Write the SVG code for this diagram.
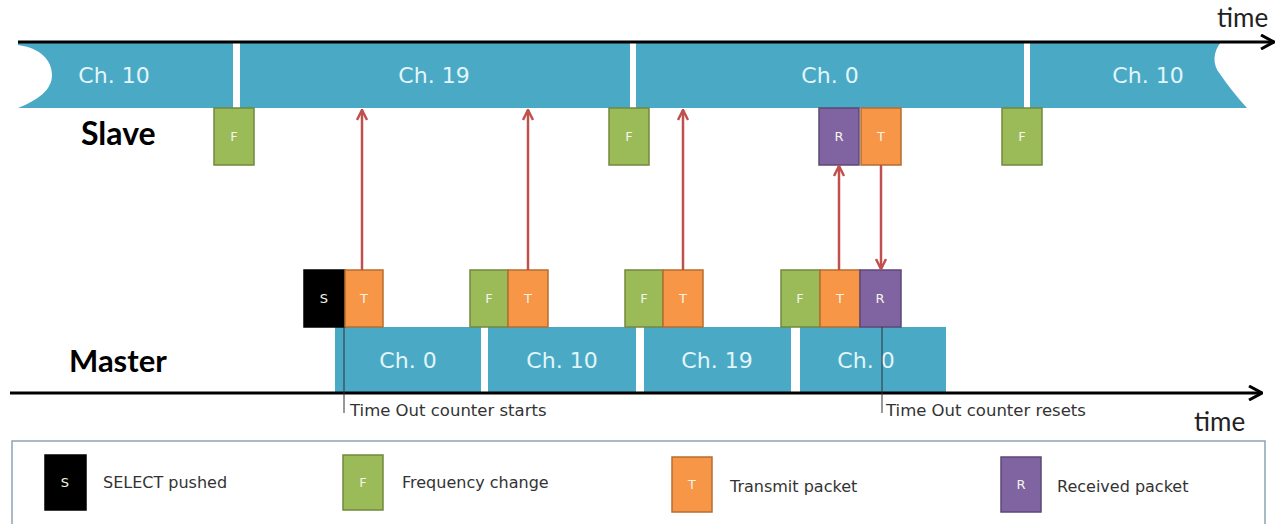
<svg xmlns="http://www.w3.org/2000/svg" width="1284" height="524" viewBox="0 0 1284 524">
<defs>
<style>
.bar{fill:#4aaac5}
.ch{font-family:"DejaVu Sans",Verdana,sans-serif;font-size:22px;fill:#e2f5fa;text-anchor:middle}
.bx{stroke-width:1.5}
.f{fill:#9bbb59;stroke:#71893f}
.t{fill:#f79646;stroke:#b66d31}
.r{fill:#8064a2;stroke:#5c4776}
.s{fill:#000;stroke:#000}
.lt{font-family:"DejaVu Sans",Verdana,sans-serif;font-size:13px;fill:#f4f4e8;text-anchor:middle}
.axis{stroke:#000;stroke-width:3;fill:none}
.lbl{font-family:Lato,"Open Sans",sans-serif;font-weight:bold;fill:#000}
.time{font-family:Lato,"Open Sans",sans-serif;font-size:26px;fill:#222}
.arw{stroke:#c0504d;stroke-width:2.5;fill:none}
.note{font-family:"DejaVu Sans",Verdana,sans-serif;font-size:16.5px;fill:#333}
.leg{font-family:"DejaVu Sans",Verdana,sans-serif;font-size:16px;fill:#333}
</style>
<marker id="ah" viewBox="0 0 12 12" refX="11" refY="6" markerWidth="12" markerHeight="12" markerUnits="userSpaceOnUse" orient="auto">
<path d="M1,1 L11,6 L1,11" fill="none" stroke="#c0504d" stroke-width="2.5"/>
</marker>
<marker id="axh" viewBox="0 0 16 16" refX="15" refY="8" markerWidth="16" markerHeight="16" markerUnits="userSpaceOnUse" orient="auto">
<path d="M2,1 L15,8 L2,15" fill="none" stroke="#000" stroke-width="3"/>
</marker>
</defs>
<rect width="1284" height="524" fill="#fff"/>

<g id="slave-bar">
<path class="bar" d="M18,42 L233,42 L233,108 L18,108 C38,100 52,90 52,75 C52,60 40,48 18,45 Z"/>
<rect class="bar" x="240" y="42" width="390" height="66"/>
<rect class="bar" x="636" y="42" width="388" height="66"/>
<path class="bar" d="M1030,42 L1221,42 C1213,52 1212,64 1220,74 C1228,86 1238,98 1247,108 L1030,108 Z"/>
<text class="ch" x="114" y="83">Ch. 10</text>
<text class="ch" x="434" y="83">Ch. 19</text>
<text class="ch" x="830" y="83">Ch. 0</text>
<text class="ch" x="1148" y="83">Ch. 10</text>
</g>

<g id="master-bar">
<rect class="bar" x="335" y="327" width="146" height="66"/>
<rect class="bar" x="488" y="327" width="148" height="66"/>
<rect class="bar" x="644" y="327" width="147" height="66"/>
<rect class="bar" x="800" y="327" width="146" height="66"/>
<text class="ch" x="408" y="368">Ch. 0</text>
<text class="ch" x="562" y="368">Ch. 10</text>
<text class="ch" x="717" y="368">Ch. 19</text>
<text class="ch" x="866" y="368">Ch. 0</text>
</g>

<g id="axes">
<line class="axis" x1="18" y1="42" x2="1274" y2="42" marker-end="url(#axh)"/>
<line class="axis" x1="10" y1="393" x2="1262" y2="393" marker-end="url(#axh)"/>
<text class="time" x="1217" y="27">time</text>
<text class="time" x="1194" y="431">time</text>
</g>

<g id="labels">
<text class="lbl" x="81" y="145" font-size="32">Slave</text>
<text class="lbl" x="69" y="372" font-size="31">Master</text>
</g>

<g id="slave-events">
<g id="sF1"><rect class="bx f" x="214" y="108" width="40" height="57"/><text class="lt" x="234" y="141">F</text></g>
<g id="sF2"><rect class="bx f" x="609" y="108" width="40" height="57"/><text class="lt" x="629" y="141">F</text></g>
<g id="sR"><rect class="bx r" x="819" y="108" width="40" height="57"/><text class="lt" x="839" y="141">R</text></g>
<g id="sT"><rect class="bx t" x="861" y="108" width="40" height="57"/><text class="lt" x="881" y="141">T</text></g>
<g id="sF3"><rect class="bx f" x="1002" y="108" width="40" height="57"/><text class="lt" x="1022" y="141">F</text></g>
</g>

<g id="master-events">
<g id="mS"><rect class="bx s" x="304" y="270" width="41" height="57"/><text class="lt" x="324" y="303">S</text></g>
<g id="mT1"><rect class="bx t" x="345" y="270" width="38" height="57"/><text class="lt" x="364" y="303">T</text></g>
<g id="mF1"><rect class="bx f" x="470" y="270" width="38" height="57"/><text class="lt" x="489" y="303">F</text></g>
<g id="mT2"><rect class="bx t" x="508" y="270" width="40" height="57"/><text class="lt" x="528" y="303">T</text></g>
<g id="mF2"><rect class="bx f" x="625" y="270" width="38" height="57"/><text class="lt" x="644" y="303">F</text></g>
<g id="mT3"><rect class="bx t" x="663" y="270" width="40" height="57"/><text class="lt" x="683" y="303">T</text></g>
<g id="mF3"><rect class="bx f" x="781" y="270" width="39" height="57"/><text class="lt" x="800" y="303">F</text></g>
<g id="mT4"><rect class="bx t" x="820" y="270" width="40" height="57"/><text class="lt" x="840" y="303">T</text></g>
<g id="mR"><rect class="bx r" x="860" y="270" width="41" height="57"/><text class="lt" x="880" y="303">R</text></g>
</g>

<g id="connectors">
<line class="arw" x1="362" y1="270" x2="362" y2="110" marker-end="url(#ah)"/>
<line class="arw" x1="528" y1="270" x2="528" y2="110" marker-end="url(#ah)"/>
<line class="arw" x1="683" y1="270" x2="683" y2="110" marker-end="url(#ah)"/>
<line class="arw" x1="839" y1="270" x2="839" y2="166" marker-end="url(#ah)"/>
<line class="arw" x1="881" y1="165" x2="881" y2="269" marker-end="url(#ah)"/>
</g>

<g id="timeout-notes">
<line x1="344" y1="327" x2="344" y2="413" stroke="#333" stroke-width="1"/>
<text class="note" x="350" y="416">Time Out counter starts</text>
<line x1="882" y1="327" x2="882" y2="413" stroke="#333" stroke-width="1"/>
<text class="note" x="886" y="416">Time Out counter resets</text>
</g>

<g id="legend">
<rect x="12" y="441" width="1253" height="84" fill="#fff" stroke="#8da3b5" stroke-width="1.5"/>
<rect class="bx s" x="45" y="455" width="41" height="55"/><text class="lt" x="65" y="487">S</text>
<text class="leg" x="103" y="488">SELECT pushed</text>
<rect class="bx f" x="343" y="455" width="40" height="55"/><text class="lt" x="363" y="487">F</text>
<text class="leg" x="402" y="488">Frequency change</text>
<rect class="bx t" x="672" y="457" width="40" height="55"/><text class="lt" x="692" y="489">T</text>
<text class="leg" x="730" y="492">Transmit packet</text>
<rect class="bx r" x="1001" y="457" width="40" height="55"/><text class="lt" x="1021" y="489">R</text>
<text class="leg" x="1057" y="492">Received packet</text>
</g>
</svg>
